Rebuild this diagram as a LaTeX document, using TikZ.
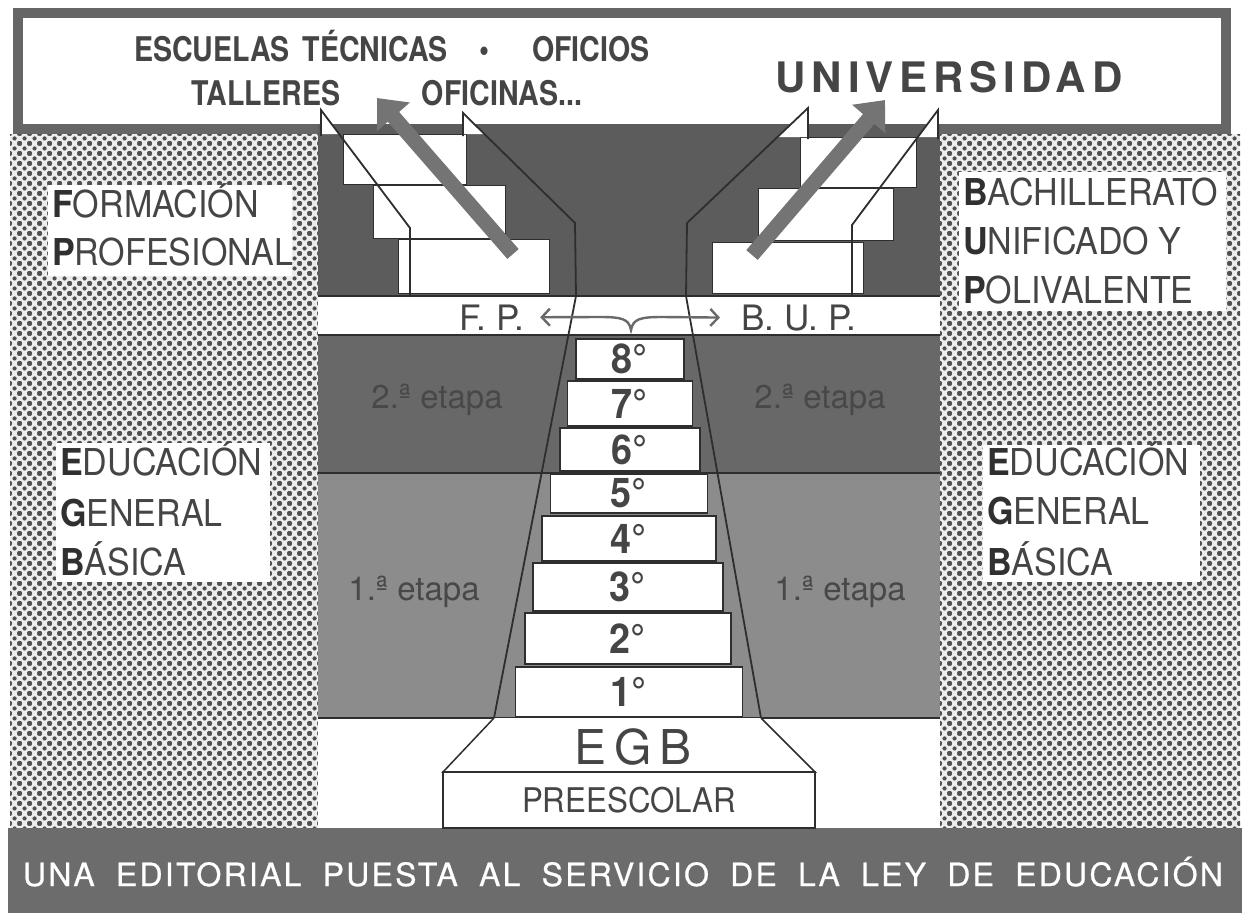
\documentclass[tikz,border=0pt]{standalone}
\usepackage{fontspec}
\setmainfont{TeX Gyre Heros}
\newfontfamily\hv{TeX Gyre Heros}
\newfontfamily\hvn[FakeStretch=0.92]{TeX Gyre Heros}
\newfontfamily\hvcn[FakeStretch=0.84]{TeX Gyre Heros}
\newfontfamily\hvuni[LetterSpace=14]{TeX Gyre Heros}
\newfontfamily\hvegb[LetterSpace=17]{TeX Gyre Heros}
\newfontfamily\hvband[LetterSpace=7,FakeBold=0.6]{TeX Gyre Heros}
\usetikzlibrary{arrows.meta,patterns.meta}
\newcommand\myfs[1]{\fontsize{#1}{#1}\selectfont}
\definecolor{txt}{HTML}{454545}
\definecolor{txtb}{HTML}{303030}
\definecolor{framecol}{HTML}{666666}
\definecolor{darkbg}{HTML}{5C5C5C}
\definecolor{etapados}{HTML}{686868}
\definecolor{etapauno}{HTML}{8C8C8C}
\definecolor{arrowcol}{HTML}{747474}
\definecolor{fpcol}{HTML}{6A6A6A}
\definecolor{linecol}{HTML}{2E2E2E}
\definecolor{bandcol}{HTML}{6C6C6C}
\definecolor{dotbg}{HTML}{EDEDED}
\definecolor{dotcol}{HTML}{505050}
\definecolor{etapatxt}{HTML}{484848}
\tikzdeclarepattern{
  name=halftone,
  type=uncolored,
  bounding box={(0pt,0pt) and (10pt,10pt)},
  tile size={(10pt,10pt)},
  code={
    \fill (0pt,0pt) circle (2.3pt);
    \fill (10pt,0pt) circle (2.3pt);
    \fill (0pt,10pt) circle (2.3pt);
    \fill (10pt,10pt) circle (2.3pt);
    \fill (5pt,5pt) circle (2.3pt);
  }
}
\tikzset{
  stepbox/.style={draw=linecol, line width=1.4pt, fill=white, inner sep=0pt,
    font=\hvn\bfseries\myfs{41}, text=txt, minimum width=#1},
  upstep/.style={draw=linecol, line width=1pt, fill=white},
  rail/.style={draw=linecol, line width=1.8pt, line join=miter, line cap=butt},
  sepline/.style={draw=linecol, line width=2.4pt},
  outl/.style={draw=linecol, line width=1.5pt},
  bigarrow/.style={draw=arrowcol, line width=15pt, line cap=butt,
    -{Triangle[length=25pt,width=42pt]}},
  fparrow/.style={draw=fpcol, line width=2.4pt,
    {Straight Barb[length=8pt,width=17pt,line width=2.4pt]}-{Straight Barb[length=8pt,width=17pt,line width=2.4pt]}},
  toptxt/.style={anchor=base, font=\hvcn\bfseries\myfs{34}, text=txt, inner sep=0pt},
  paneltxt/.style={anchor=base west, font=\hvn\myfs{37}, text=txt, inner sep=0pt},
  etapa/.style={anchor=base, font=\hv\myfs{33}, text=etapatxt, inner sep=0pt},
}
\newcommand\bl[1]{{\bfseries\color{txtb}#1}}
\begin{document}
\begin{tikzpicture}[x=1pt,y=-1pt]
\useasboundingbox (0,0) rectangle (1242,913);
\fill[white] (0,0) rectangle (1242,913);
% banner
\fill[framecol] (13,8) rectangle (1231,134);
\fill[white] (23,18) rectangle (1221,124);
% dotted panels
\fill[dotbg] (10,134) rectangle (318,828);
\fill[pattern=halftone, pattern color=dotcol] (10,134) rectangle (318,828);
\fill[dotbg] (940,134) rectangle (1240,828);
\fill[pattern=halftone, pattern color=dotcol] (940,134) rectangle (1240,828);
% bottom band
\fill[bandcol] (8,828) rectangle (1242,913);
% center column bands
\fill[darkbg] (318,124) rectangle (940,296);
\fill[white] (318,296) rectangle (940,335);
\fill[etapados] (318,335) rectangle (940,473);
\fill[etapauno] (318,473) rectangle (940,718);
\fill[white] (318,718) rectangle (940,828);
\draw[sepline] (318,296) -- (940,296);
\draw[sepline] (318,335) -- (940,335);
\draw[sepline] (318,473) -- (940,473);
\draw[sepline] (318,718) -- (940,718);
% upper stairs (F.P.)
\draw[upstep] (343,134) rectangle (466,184);
\draw[upstep] (373,185) rectangle (505,238);
\draw[upstep] (398,239) rectangle (549,293);
% upper stairs (B.U.P.)
\draw[upstep] (800,137) rectangle (916,187);
\draw[upstep] (758,188) rectangle (893,240);
\draw[upstep] (712,242) rectangle (863,293);
% flags
\fill[white] (321,110) -- (321,134) -- (339,134) -- cycle;
\fill[white] (463,113) -- (463,134) -- (484,134) -- cycle;
\fill[white] (808,108) -- (808,137) -- (777,137) -- cycle;
\fill[white] (938,110) -- (938,137) -- (918,137) -- cycle;
% rails
\draw[rail] (321,136) -- (321,110) -- (410,228) -- (410,296);
\draw[rail] (463,136) -- (463,113) -- (575,223) -- (576,296) -- (494,718);
\draw[rail] (808,139) -- (808,108) -- (687,223) -- (686,296) -- (761,718);
\draw[rail] (938,139) -- (938,110) -- (852,225) -- (852,296);
% steps
\node[stepbox=108pt, minimum height=40pt] (s8) at (630,359) {8°};
\node[stepbox=125pt, minimum height=45pt] (s7) at (630,403.5) {7°};
\node[stepbox=140pt, minimum height=43pt] (s6) at (630,449.5) {6°};
\node[stepbox=157pt, minimum height=39pt] (s5) at (629,493.5) {5°};
\node[stepbox=174pt, minimum height=45pt] (s4) at (629,538.5) {4°};
\node[stepbox=190pt, minimum height=48pt] (s3) at (628,587) {3°};
\node[stepbox=206pt, minimum height=51pt] (s2) at (628,638.5) {2°};
\node[stepbox=227pt, minimum height=50pt] (s1) at (629,692) {1°};
% EGB base
\draw[outl, fill=white] (494,718) -- (443,772) -- (815,772) -- (761,718);
\node[outl, fill=white, minimum width=372pt, minimum height=56pt, inner sep=0pt,
  font=\hvn\myfs{34}, text=txt] (pre) at (629,800) {PREESCOLAR};
\node[anchor=base, font=\hvegb\myfs{48}, text=txt, inner sep=0pt] (egb) at (633,764) {EGB};
% big arrows
\draw[bigarrow] (513,254) -- (377,98);
\draw[bigarrow] (752,255) -- (885,100);
% F.P. / B.U.P.
\node[anchor=base, font=\hv\myfs{35}, text=txt] (fp) at (492,330) {F. P.};
\node[anchor=base, font=\hv\myfs{35}, text=txt] (bup) at (799,330) {B. U. P.};
\coordinate (br) at (631,330);
\draw[fparrow] ([xshift=12pt]fp.east) -- (600,317) .. controls (622,317) and (629,319) .. (br)
  .. controls (633,319) and (640,317) .. (662,317) -- ([xshift=-18pt]bup.west);
% etapas
\node[etapa] (e2l) at (437,408) {2.ª etapa};
\node[etapa] (e2r) at (820,408) {2.ª etapa};
\node[etapa] (e1l) at (414,600) {1.ª etapa};
\node[etapa] (e1r) at (840,600) {1.ª etapa};
% top banner texts
\node[toptxt] (esc) at (291,61) {ESCUELAS\hspace{5pt} TÉCNICAS};
\node[toptxt] (bul) at (484,61) {•};
\node[toptxt] (ofs) at (591,61) {OFICIOS};
\node[toptxt] (tal) at (266,105) {TALLERES};
\node[toptxt] (ofn) at (502,105) {OFICINAS...};
\node[anchor=base, font=\hvuni\bfseries\myfs{42}, text=txt, inner sep=0pt] (uni) at (949,92) {UNIVERSIDAD};
% panel texts
\fill[white] (48,185) rectangle (292,276);
\node[paneltxt] (fp1) at (52,217) {\bl{F}ORMACIÓN};
\node[paneltxt] (fp2) at (52,265) {\bl{P}ROFESIONAL};
\fill[white] (56,443) rectangle (270,582);
\node[paneltxt] (el1) at (60,475) {\bl{E}DUCACIÓN};
\node[paneltxt] (el2) at (60,526) {\bl{G}ENERAL};
\node[paneltxt] (el3) at (60,575) {\bl{B}ÁSICA};
\fill[white] (959,172) rectangle (1226,311);
\node[paneltxt] (bu1) at (963,205) {\bl{B}ACHILLERATO};
\node[paneltxt] (bu2) at (963,254) {\bl{U}NIFICADO Y};
\node[paneltxt] (bu3) at (963,303) {\bl{P}OLIVALENTE};
\fill[white] (983,445) rectangle (1200,582);
\node[paneltxt] (er1) at (987,475) {\bl{E}DUCACIÓN};
\node[paneltxt] (er2) at (987,524) {\bl{G}ENERAL};
\node[paneltxt] (er3) at (987,575) {\bl{B}ÁSICA};
% bottom band text
\node[anchor=base, font=\hvband\myfs{32}, text=white, inner sep=0pt] (ley) at (623,886)
  {\makebox[1200pt][s]{UNA EDITORIAL PUESTA AL SERVICIO DE LA LEY DE EDUCACIÓN}};
\end{tikzpicture}
\end{document}
